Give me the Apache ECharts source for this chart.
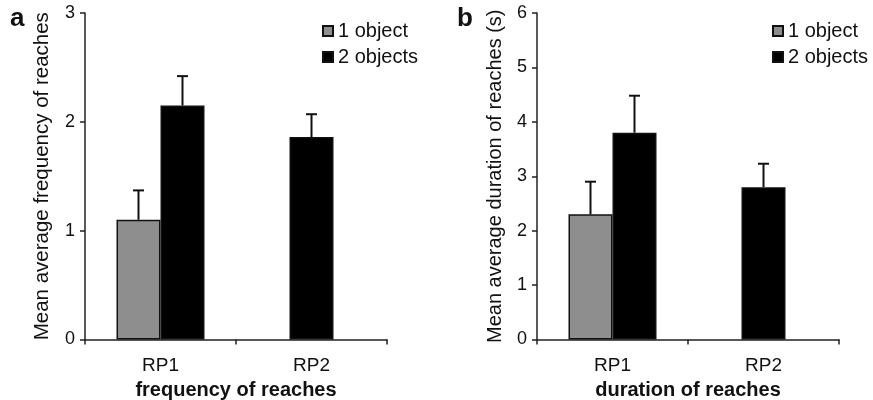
<!DOCTYPE html>
<html>
<head>
<meta charset="utf-8">
<script src="https://cdn.jsdelivr.net/npm/echarts@6/dist/echarts.min.js"></script>
<style>
  html, body { margin: 0; padding: 0; background: #fff; }
  #chart { width: 873px; height: 400px; }
</style>
</head>
<body>
<div id="chart"></div>
<script>
// categories and legend
const categories = ["RP1", "RP2"];
const seriesNames = ["1 object", "2 objects"];

// panel a: frequency of reaches (mean, error = +SE)
const freqOne = [1.1, null];
const freqOneErr = [0.27, null];
const freqTwo = [2.15, 1.86];
const freqTwoErr = [0.27, 0.21];

// panel b: duration of reaches in seconds
const durOne = [2.3, null];
const durOneErr = [0.6, null];
const durTwo = [3.8, 2.8];
const durTwoErr = [0.68, 0.43];

const fontFamily = "Liberation Sans, Arial, sans-serif";
const barWidth = 44;
const grey = "#8e8e8e";

// error bar drawn above a bar, shifted sideways by offset px
function errorSeries(gridIdx, axisIdx, values, errs, offset, keep) {
  const data = [];
  values.forEach((v, i) => {
    if (v != null && keep(i)) data.push([i, v, v + errs[i]]);
  });
  return {
    type: "custom",
    xAxisIndex: axisIdx,
    yAxisIndex: gridIdx,
    z: 1,
    silent: true,
    data: data,
    renderItem: function(params, api) {
      const base = api.coord([api.value(0), api.value(1)]);
      const top = api.coord([api.value(0), api.value(2)]);
      const x = base[0] + offset;
      const style = { stroke: "#111", lineWidth: 2 };
      return {
        type: "group",
        children: [
          { type: "line", shape: { x1: x, y1: base[1], x2: x, y2: top[1] }, style: style },
          { type: "line", shape: { x1: x - 5.5, y1: top[1], x2: x + 5.5, y2: top[1] }, style: style }
        ]
      };
    }
  };
}

function barSeries(name, axisIdx, gridIdx, values, color, keep) {
  return {
    name: name,
    type: "bar",
    xAxisIndex: axisIdx,
    yAxisIndex: gridIdx,
    barWidth: barWidth,
    barGap: "0%",
    z: 2,
    itemStyle: { color: color, borderColor: "#111", borderWidth: 1.5 },
    data: values.map((v, i) => (keep(i) ? v : null))
  };
}

const grids = [
  { left: 85, width: 302, top: 13, bottom: 60.5, outerBoundsMode: "none", containLabel: false },
  { left: 537, width: 302, top: 13, bottom: 60.5, outerBoundsMode: "none", containLabel: false }
];

function xAxisFor(gridIdx, title, visible) {
  return {
    type: "category",
    gridIndex: gridIdx,
    data: categories,
    show: visible,
    name: title,
    nameLocation: "middle",
    nameGap: 41,
    nameTextStyle: { color: "#111", fontSize: 20, fontWeight: "bold", fontFamily: fontFamily },
    axisLine: { lineStyle: { color: "#222", width: 1.5 } },
    axisTick: { show: true, length: 5, lineStyle: { color: "#222", width: 1.5 } },
    axisLabel: { color: "#111", fontSize: 19, margin: 17, fontFamily: fontFamily }
  };
}

function yAxisFor(gridIdx, max, title, size) {
  return {
    type: "value",
    gridIndex: gridIdx,
    min: 0,
    max: max,
    interval: 1,
    name: title,
    nameLocation: "middle",
    nameGap: 32,
    nameTextStyle: { color: "#111", fontSize: size, fontFamily: fontFamily },
    splitLine: { show: false },
    axisLine: { show: true, lineStyle: { color: "#222", width: 1.5 } },
    axisTick: { show: true, length: 5, lineStyle: { color: "#222", width: 1.5 } },
    axisLabel: { color: "#111", fontSize: 18, margin: 10, fontFamily: fontFamily }
  };
}

const isRP1 = i => i === 0;
const isRP2 = i => i === 1;

function legendAt(left) {
  return {
    data: seriesNames,
    left: left, top: 16, orient: "vertical",
    icon: "rect",
    itemWidth: 10, itemHeight: 10, itemGap: 6,
    textStyle: { fontSize: 20, color: "#111", fontFamily: fontFamily }
  };
}

const option = {
  animation: false,
  textStyle: { fontFamily: fontFamily },
  title: [
    { text: "a", left: 5, top: 1, textStyle: { fontSize: 26, fontWeight: "bold", color: "#111", fontFamily: fontFamily } },
    { text: "b", left: 452, top: 1, textStyle: { fontSize: 26, fontWeight: "bold", color: "#111", fontFamily: fontFamily } }
  ],
  legend: [legendAt(317), legendAt(767)],
  grid: grids,
  xAxis: [
    xAxisFor(0, "frequency of reaches", true),
    xAxisFor(1, "duration of reaches", true),
    xAxisFor(0, "", false),
    xAxisFor(1, "", false)
  ],
  yAxis: [
    yAxisFor(0, 3, "Mean average frequency of reaches", 20.5),
    yAxisFor(1, 6, "Mean average duration of reaches (s)", 20)
  ],
  series: [
    // panel a: RP1 pair on axis 0, lone RP2 bar on axis 2 so it sits centred
    barSeries("1 object", 0, 0, freqOne, grey, isRP1),
    barSeries("2 objects", 0, 0, freqTwo, "#000", isRP1),
    barSeries("2 objects", 2, 0, freqTwo, "#000", isRP2),
    errorSeries(0, 0, freqOne, freqOneErr, -barWidth / 2, isRP1),
    errorSeries(0, 0, freqTwo, freqTwoErr, barWidth / 2, isRP1),
    errorSeries(0, 2, freqTwo, freqTwoErr, 0, isRP2),
    // panel b
    barSeries("1 object", 1, 1, durOne, grey, isRP1),
    barSeries("2 objects", 1, 1, durTwo, "#000", isRP1),
    barSeries("2 objects", 3, 1, durTwo, "#000", isRP2),
    errorSeries(1, 1, durOne, durOneErr, -barWidth / 2, isRP1),
    errorSeries(1, 1, durTwo, durTwoErr, barWidth / 2, isRP1),
    errorSeries(1, 3, durTwo, durTwoErr, 0, isRP2)
  ]
};

const chart = echarts.init(document.getElementById("chart"));
chart.setOption(option);
window.addEventListener("resize", function() {
  chart.resize();
});
</script>
</body>
</html>
